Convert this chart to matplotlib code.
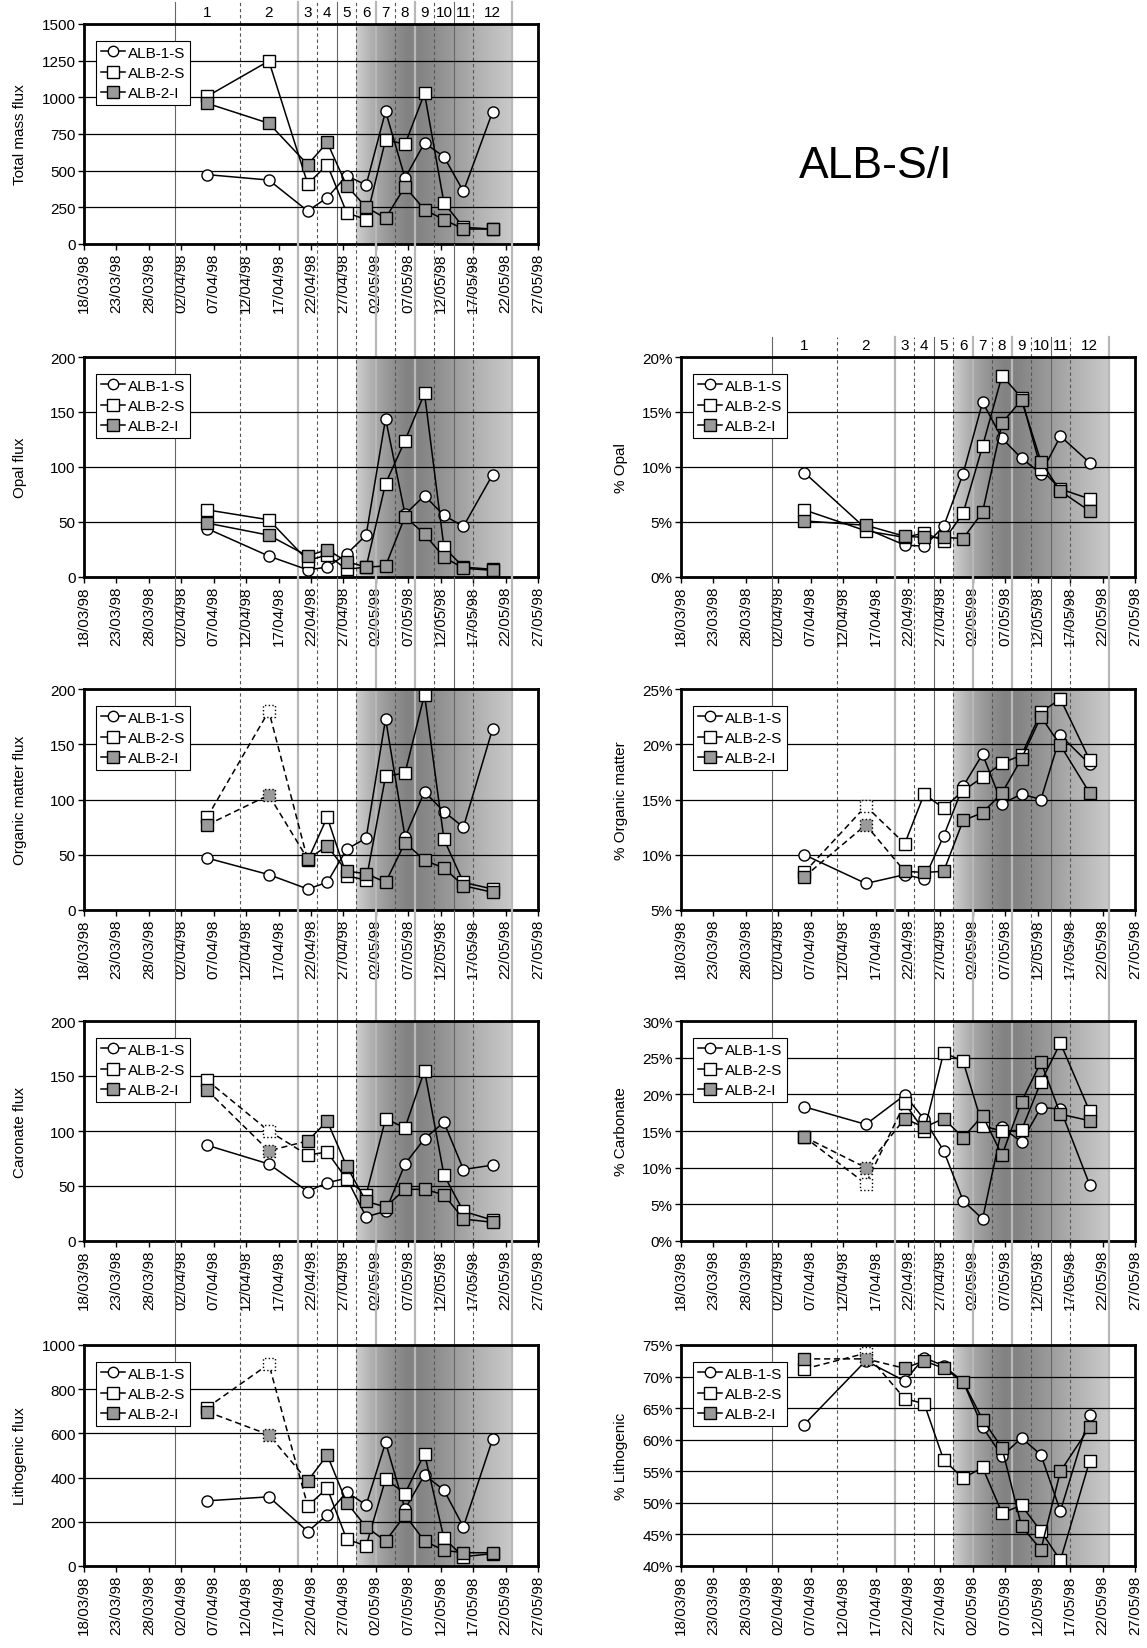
import numpy as np
import matplotlib
matplotlib.use('Agg')
import matplotlib.pyplot as plt
import matplotlib.dates as mdates
from matplotlib.lines import Line2D
from matplotlib.ticker import FuncFormatter

plt.rcParams['font.family'] = ['Liberation Sans', 'DejaVu Sans']

## data ------------------------------------------------------------------
# mid date of every trap cup (periods 1..12)
sample_dates = ['1998-04-06', '1998-04-15T12', '1998-04-21T12', '1998-04-24T12',
                '1998-04-27T12', '1998-04-30T12', '1998-05-03T12', '1998-05-06T12',
                '1998-05-09T12', '1998-05-12T12', '1998-05-15T12', '1998-05-20']
period_labels = ['1', '2', '3', '4', '5', '6', '7', '8', '9', '10', '11', '12']
period_edges = ['1998-04-01', '1998-04-11', '1998-04-20', '1998-04-23', '1998-04-26',
                '1998-04-29', '1998-05-02', '1998-05-05', '1998-05-08', '1998-05-11',
                '1998-05-14', '1998-05-17', '1998-05-23']
bloom = ['1998-04-29', '1998-05-23']
series = ['ALB-1-S', 'ALB-2-S', 'ALB-2-I']

mass_1S = [473, 436, 225, 316, 466, 402, 905, 450, 689, 595, 359, 902]
mass_2S = [1007, 1248, 409, 541, 214, 166, 711, 680, 1027, 280, 114, 102]
mass_2I = [959, 823, 541, 693, 398, 250, 177, 391, 234, 166, 102, 102]

opal_1S = [44, 19, 6.5, 9, 21, 38, 144, 57, 74, 56, 46, 93]
opal_2S = [61, 52, 15, 20, 7, 9, 85, 124, 167, 27, 9, 7]
opal_2I = [49, 38, 19, 25, 14, 9, 10, 55, 39, 18, 8, 6]

om_1S = [47, 32, 19, 25, 55, 65, 173, 66, 107, 89, 75, 164]
om_2S = [84, 180, 45, 84, 31, 27, 121, 124, 195, 64, 25, 19]
om_2I = [77, 104, 46, 58, 35, 33, 25, 61, 45, 38, 22, 16]

carb_1S = [87, 70, 45, 53, 57, 22, 27, 70, 93, 108, 65, 69]
carb_2S = [146, 100, 78, 81, 56, 42, 111, 103, 155, 60, 27, 19]
carb_2I = [137, 82, 91, 109, 68, 36, 31, 47, 47, 42, 20, 17]

lith_1S = [295, 313, 156, 231, 335, 276, 559, 257, 412, 343, 177, 574]
lith_2S = [717, 914, 272, 352, 121, 91, 393, 328, 509, 125, 42, 56]
lith_2I = [698, 594, 385, 502, 287, 177, 113, 230, 113, 71, 60, 60]

popal_1S = [9.5, 4.4, 2.9, 2.8, 4.6, 9.4, 15.9, 12.6, 10.8, 9.4, 12.8, 10.4]
popal_2S = [6.1, 4.2, 3.6, 4.0, 3.3, 5.8, 11.9, 18.3, 16.3, 9.8, 8.0, 7.1]
popal_2I = [5.1, 4.7, 3.7, 3.6, 3.6, 3.5, 5.9, 14.0, 16.1, 10.5, 7.8, 6.0]

pom_1S = [10.0, 7.4, 8.2, 7.8, 11.7, 16.2, 19.1, 14.6, 15.5, 15.0, 20.8, 18.2]
pom_2S = [8.4, 14.4, 11.0, 15.5, 14.2, 15.8, 17.0, 18.3, 19.0, 22.9, 24.1, 18.6]
pom_2I = [8.0, 12.7, 8.5, 8.4, 8.5, 13.1, 13.8, 15.6, 18.7, 22.5, 19.9, 15.6]

pcarb_1S = [18.3, 15.9, 19.9, 16.6, 12.3, 5.5, 3.0, 15.5, 13.5, 18.2, 18.0, 7.7]
pcarb_2S = [14.2, 7.8, 18.8, 15.0, 25.7, 24.5, 15.7, 15.0, 15.1, 21.7, 27.0, 17.7]
pcarb_2I = [14.2, 10.0, 16.7, 15.5, 16.7, 14.1, 17.1, 11.7, 19.0, 24.4, 17.3, 16.4]

plith_1S = [62.4, 72.5, 69.3, 73.0, 71.7, 69.2, 62.0, 57.4, 60.3, 57.6, 48.7, 63.9]
plith_2S = [71.2, 73.7, 66.5, 65.7, 56.8, 53.9, 55.6, 48.4, 49.6, 45.5, 40.9, 56.6]
plith_2I = [72.8, 72.8, 71.3, 72.5, 71.3, 69.2, 63.2, 58.7, 46.3, 42.6, 55.0, 62.0]

## styles ----------------------------------------------------------------
edge_style = ['dark', 'dash', 'light', 'dash', 'dark', 'dash', 'light', 'dash',
              'light', 'dash', 'dark', 'dash', 'light']
mk = [dict(marker='o', mfc='white', ms=8),
      dict(marker='s', mfc='white', ms=8.5),
      dict(marker='s', mfc='#9a9a9a', ms=8.5)]
fs = 11

W, H = 1147, 1649
fig = plt.figure(figsize=(W / 100, H / 100), dpi=100)

xd = mdates.date2num(np.array(sample_dates, dtype='datetime64[s]'))
xe = mdates.date2num(np.array(period_edges, dtype='datetime64[s]'))
xb = mdates.date2num(np.array(bloom, dtype='datetime64[s]'))
x0 = mdates.date2num(np.datetime64('1998-03-18'))
x1 = mdates.date2num(np.datetime64('1998-05-27'))

# gray shading profile (days after start of bloom, gray level)
gd = np.array([0, 3, 6, 8, 10, 13, 16, 19, 24])
gv = np.array([0.81, 0.66, 0.56, 0.51, 0.52, 0.57, 0.63, 0.70, 0.79])


def panel(col, top, bot, ext, ys, ylabel, ylo, yhi, step, pct=False, est=False, nums=False):
    cx = 84 if col == 0 else 681
    ax = fig.add_axes([cx / W, 1 - bot / H, 454 / W, (bot - top) / H])
    h = bot - top
    ax.set_xlim(x0, x1)
    ax.set_ylim(ylo, yhi)

    g = np.interp(np.linspace(0, 24, 400), gd, gv)
    ax.imshow(g[None, :], extent=[xb[0], xb[1], ylo, yhi], aspect='auto',
              cmap='gray', vmin=0, vmax=1, zorder=0.2, interpolation='bilinear')
    for xv, st in zip(xe, edge_style):
        if st == 'dash':
            kw = dict(color='#555555', lw=0.8, ls=(0, (3, 2.5)))
        elif st == 'light':
            kw = dict(color='#b8b8b8', lw=1.6)
        else:
            kw = dict(color='#666666', lw=0.8)
        ax.axvline(xv, ymin=0, ymax=1 + ext / h, clip_on=False, zorder=0.3, **kw)

    ax.set_yticks(np.arange(ylo, yhi + step / 2, step))
    ax.yaxis.grid(True, color='black', lw=0.9)
    ax.set_axisbelow(True)
    if pct:
        ax.yaxis.set_major_formatter(FuncFormatter(lambda v, p: '%d%%' % round(v)))

    for k in range(3):
        y = np.array(ys[k], dtype=float)
        st = mk[k]
        z = 3 + k
        if est and k > 0:
            ax.plot(xd[:3], y[:3], color='black', lw=1.1, ls=(0, (4, 2.5)), zorder=z)
            ax.plot(xd[2:], y[2:], color='black', lw=1.1, zorder=z)
            idx = [i for i in range(12) if i != 1]
            ax.plot(xd[idx], y[idx], ls='none', marker=st['marker'], mfc=st['mfc'],
                    mec='black', ms=st['ms'], mew=1, zorder=z)
            ax.scatter(xd[1:2], y[1:2], marker=st['marker'], s=st['ms'] ** 2,
                       facecolor=st['mfc'], edgecolor='black', linewidths=1,
                       linestyle=':', zorder=z)
        else:
            ax.plot(xd, y, color='black', lw=1.1, marker=st['marker'], mfc=st['mfc'],
                    mec='black', ms=st['ms'], mew=1, zorder=z)

    hnd = [Line2D([], [], color='black', lw=1.1, marker=m['marker'], mfc=m['mfc'],
                  mec='black', ms=m['ms'] - 0.5, mew=1) for m in mk]
    leg = ax.legend(hnd, series, loc='upper left', bbox_to_anchor=(0.027, 0.923),
                    borderaxespad=0, fontsize=fs, frameon=True, fancybox=False,
                    framealpha=1, edgecolor='black', handlelength=1.6,
                    handletextpad=0.15, labelspacing=0.42, borderpad=0.3)
    leg.get_frame().set_linewidth(0.8)
    leg.set_zorder(10)

    ax.set_xticks(np.arange(x0, x1 + 0.5, 5))
    ax.xaxis.set_major_formatter(mdates.DateFormatter('%d/%m/%y'))
    ax.tick_params(axis='x', labelrotation=90)
    ax.tick_params(axis='both', direction='out', length=4, width=1, labelsize=fs, pad=2)
    for s in ax.spines.values():
        s.set_linewidth(2)
        s.set_zorder(8)

    ax.set_ylabel(ylabel, fontsize=fs)
    lx = 27 if col == 0 else 628
    ax.yaxis.set_label_coords((lx - cx) / 454, 0.5)

    if nums:
        for xv, t in zip(xd, period_labels):
            ax.text(xv, 1 + 12 / h, t, transform=ax.get_xaxis_transform(),
                    ha='center', va='center', fontsize=fs)
    return ax


panel(0, 25, 245, 22, [mass_1S, mass_2S, mass_2I], 'Total mass flux', 0, 1500, 250, nums=True)
panel(0, 358, 578, 113, [opal_1S, opal_2S, opal_2I], 'Opal flux', 0, 200, 50)
panel(0, 690, 911, 112, [om_1S, om_2S, om_2I], 'Organic matter flux', 0, 200, 50, est=True)
panel(0, 1022, 1242, 111, [carb_1S, carb_2S, carb_2I], 'Caronate flux', 0, 200, 50, est=True)
panel(0, 1346, 1567, 104, [lith_1S, lith_2S, lith_2I], 'Lithogenic flux', 0, 1000, 200, est=True)

panel(1, 358, 578, 20, [popal_1S, popal_2S, popal_2I], '% Opal', 0, 20, 5, pct=True, nums=True)
panel(1, 690, 911, 112, [pom_1S, pom_2S, pom_2I], '% Organic matter', 5, 25, 5, pct=True, est=True)
panel(1, 1022, 1242, 111, [pcarb_1S, pcarb_2S, pcarb_2I], '% Carbonate', 0, 30, 5, pct=True, est=True)
panel(1, 1346, 1567, 104, [plith_1S, plith_2S, plith_2I], '% Lithogenic', 40, 75, 5, pct=True, est=True)

fig.text(876 / W, 1 - 166 / H, 'ALB-S/I', fontsize=32, ha='center', va='center')

fig.savefig('out.png', dpi=100)
